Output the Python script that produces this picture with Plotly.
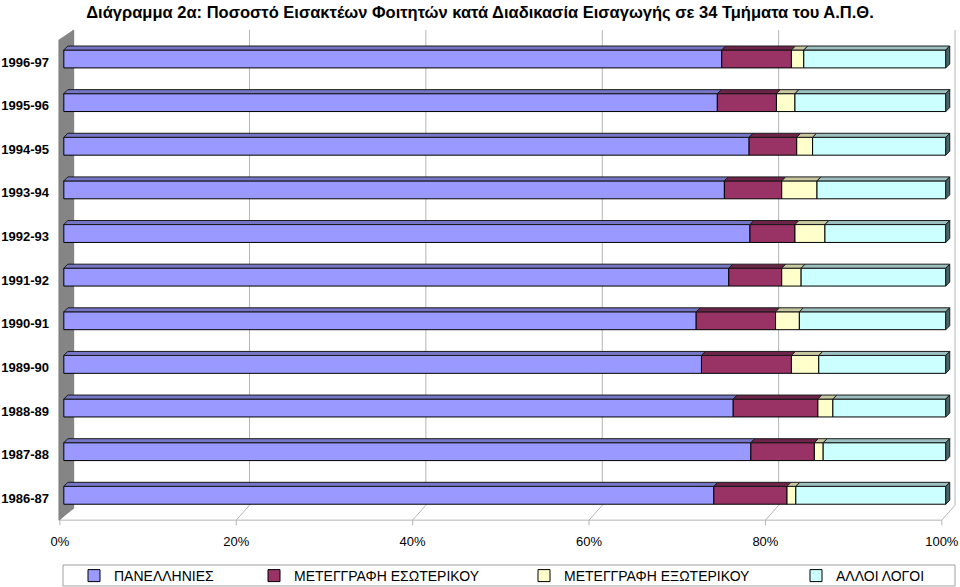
import plotly.graph_objects as go

# ---------------- data ----------------
years = ["1996-97", "1995-96", "1994-95", "1993-94", "1992-93", "1991-92",
         "1990-91", "1989-90", "1988-89", "1987-88", "1986-87"]
panellinies = [74.6, 74.1, 77.7, 74.9, 77.8, 75.4, 71.7, 72.3, 75.9, 77.9, 73.7]
metegrafi_esoterikou = [7.9, 6.7, 5.4, 6.5, 5.1, 6.0, 9.0, 10.2, 9.6, 7.2, 8.3]
metegrafi_exoterikou = [1.4, 2.1, 1.8, 4.0, 3.4, 2.2, 2.7, 3.1, 1.7, 1.0, 1.0]
alloi_logoi = [16.1, 17.1, 15.1, 14.6, 13.7, 16.4, 16.6, 14.4, 12.8, 13.9, 17.0]

series_names = ["ΠΑΝΕΛΛΗΝΙΕΣ", "ΜΕΤΕΓΓΡΑΦΗ ΕΣΩΤΕΡΙΚΟΥ",
                "ΜΕΤΕΓΓΡΑΦΗ ΕΞΩΤΕΡΙΚΟΥ", "ΑΛΛΟΙ ΛΟΓΟΙ"]
tick_vals = [0, 20, 40, 60, 80, 100]
tick_text = ["0%", "20%", "40%", "60%", "80%", "100%"]
title_text = "Διάγραμμα 2α: Ποσοστό Εισακτέων Φοιτητών κατά Διαδικασία Εισαγωγής σε 34 Τμήματα του Α.Π.Θ."

# ---------------- style ----------------
front_colors = ["#9999FF", "#993366", "#FFFFCC", "#CCFFFF"]
top_colors = ["#7676C8", "#6E2449", "#C8C8A0", "#9CBFBF"]
cap_color = "#476666"
FONT = "Arial, 'Liberation Sans', sans-serif"

W, H = 960, 587
M_L, M_R, M_T, M_B = 55, 1, 28, 59
X_RANGE = [-1.0, 101.5]
Y_RANGE = [10.75, -0.71]

BAR_W = 0.41      # front face thickness (y units)
DX = 0.45         # bar depth offset (x units)
DY = 0.092        # bar depth offset (y units)
FLOOR_FRONT_DX = -0.45
FLOOR_BACK_DX = 1.05
FLOOR_FRONT_Y = 10.57
FLOOR_BACK_Y = 10.23
WALL_TOP_Y = -0.665

plot_w = W - M_L - M_R
plot_h = H - M_T - M_B


def px_to_paper_x(px):
    return (px - M_L) / plot_w


def px_to_paper_y(py):
    return (H - M_B - py) / plot_h


series = [panellinies, metegrafi_esoterikou, metegrafi_exoterikou, alloi_logoi]
ypos = list(range(len(years)))

fig = go.Figure()

legend_names = ["legend", "legend2", "legend3", "legend4"]
bases = [0.0] * len(years)
for k, (name, vals) in enumerate(zip(series_names, series)):
    fig.add_trace(go.Bar(
        y=ypos, x=vals, base=list(bases), orientation="h", width=BAR_W,
        name=name, legend=legend_names[k],
        marker=dict(color=front_colors[k], line=dict(color="black", width=1)),
        hoverinfo="skip",
    ))
    xs, ys = [], []
    for i, (b, v) in enumerate(zip(bases, vals)):
        x0, x1 = b, b + v
        yt = ypos[i] - BAR_W / 2
        xs += [x0, x1, x1 + DX, x0 + DX, x0, None]
        ys += [yt, yt, yt - DY, yt - DY, yt, None]
    fig.add_trace(go.Scatter(
        x=xs, y=ys, mode="lines", fill="toself", fillcolor=top_colors[k],
        line=dict(color="#1a1a1a", width=1), showlegend=False, hoverinfo="skip",
    ))
    bases = [b + v for b, v in zip(bases, vals)]

# right end caps
xs, ys = [], []
for i, t in enumerate(bases):
    yt = ypos[i] - BAR_W / 2
    yb = ypos[i] + BAR_W / 2
    xs += [t, t + DX, t + DX, t, t, None]
    ys += [yt, yt - DY, yb - DY, yb, yt, None]
fig.add_trace(go.Scatter(
    x=xs, y=ys, mode="lines", fill="toself", fillcolor=cap_color,
    line=dict(color="#1a1a1a", width=1), showlegend=False, hoverinfo="skip",
))

shapes = []
# back gridlines + floor diagonals
for v in tick_vals:
    shapes.append(dict(type="line", xref="x", yref="y", layer="below",
                       x0=v + FLOOR_BACK_DX, x1=v + FLOOR_BACK_DX,
                       y0=WALL_TOP_Y, y1=FLOOR_BACK_Y,
                       line=dict(color="#b4b4b4", width=1)))
    shapes.append(dict(type="line", xref="x", yref="y", layer="below",
                       x0=v + FLOOR_BACK_DX, x1=v + FLOOR_FRONT_DX,
                       y0=FLOOR_BACK_Y, y1=FLOOR_FRONT_Y,
                       line=dict(color="#b4b4b4", width=1)))
    shapes.append(dict(type="line", xref="x", yref="y", layer="below",
                       x0=v + FLOOR_FRONT_DX, x1=v + FLOOR_FRONT_DX,
                       y0=FLOOR_FRONT_Y, y1=FLOOR_FRONT_Y + 0.12,
                       line=dict(color="#b4b4b4", width=1)))
# front floor line
shapes.append(dict(type="line", xref="x", yref="y", layer="below",
                   x0=FLOOR_FRONT_DX - 0.1, x1=100 + FLOOR_FRONT_DX,
                   y0=FLOOR_FRONT_Y, y1=FLOOR_FRONT_Y,
                   line=dict(color="#b4b4b4", width=1)))
# left wall
wall_path = (f"M {-0.57},{-0.436} L {1.13},{WALL_TOP_Y} L {1.13},{10.30} "
             f"L {-0.57},{FLOOR_FRONT_Y} Z")
shapes.append(dict(type="path", xref="x", yref="y", layer="below",
                   path=wall_path, fillcolor="#858585",
                   line=dict(color="#6a6a6a", width=0.5)))
# legend frame
shapes.append(dict(type="rect", xref="paper", yref="paper",
                   x0=px_to_paper_x(63), x1=px_to_paper_x(955),
                   y0=px_to_paper_y(586), y1=px_to_paper_y(565),
                   line=dict(color="#a0a0a0", width=1), fillcolor="rgba(0,0,0,0)"))

legend_text_starts = [111, 291, 561, 833]
leg_common = dict(orientation="h", yanchor="middle", xanchor="left",
                  xref="container", yref="container",
                  y=1 - 576 / H, bgcolor="rgba(0,0,0,0)",
                  font=dict(family=FONT, size=14, color="black"),
                  borderwidth=0)
layout_legends = {}
for name, tx in zip(legend_names, legend_text_starts):
    layout_legends[name] = dict(x=(tx - 37) / W, **leg_common)

# tick labels sit on the front edge of the 3-D floor
tick_pos = [v + FLOOR_FRONT_DX for v in tick_vals]

fig.update_layout(
    width=W, height=H,
    margin=dict(l=M_L, r=M_R, t=M_T, b=M_B, pad=0, autoexpand=False),
    paper_bgcolor="white", plot_bgcolor="white",
    barmode="overlay",
    showlegend=True,
    hovermode=False,
    title=dict(text=f"<b>{title_text}</b>", x=0.5, xanchor="center", xref="container",
               yref="container", y=1 - 12 / H, yanchor="middle", automargin=False,
               font=dict(family=FONT, size=16.5, color="black")),
    xaxis=dict(range=X_RANGE, tickvals=tick_pos, ticktext=tick_text,
               showgrid=False, zeroline=False, showline=False, ticks="",
               ticklabelstandoff=4, automargin=False, ticklabeloverflow="allow",
               tickfont=dict(family=FONT, size=13, color="black")),
    yaxis=dict(range=Y_RANGE, tickvals=ypos, ticktext=years,
               showgrid=False, zeroline=False, showline=False, ticks="",
               ticklabelstandoff=5, automargin=False, ticklabelshift=-3,
               tickfont=dict(family=FONT, size=13, color="black", weight="bold")),
    shapes=shapes,
    **layout_legends,
)

fig.write_html(
    "out.html",
    config={"displayModeBar": False},
    post_script="document.body.style.margin='0';document.body.style.overflow='hidden';",
)
